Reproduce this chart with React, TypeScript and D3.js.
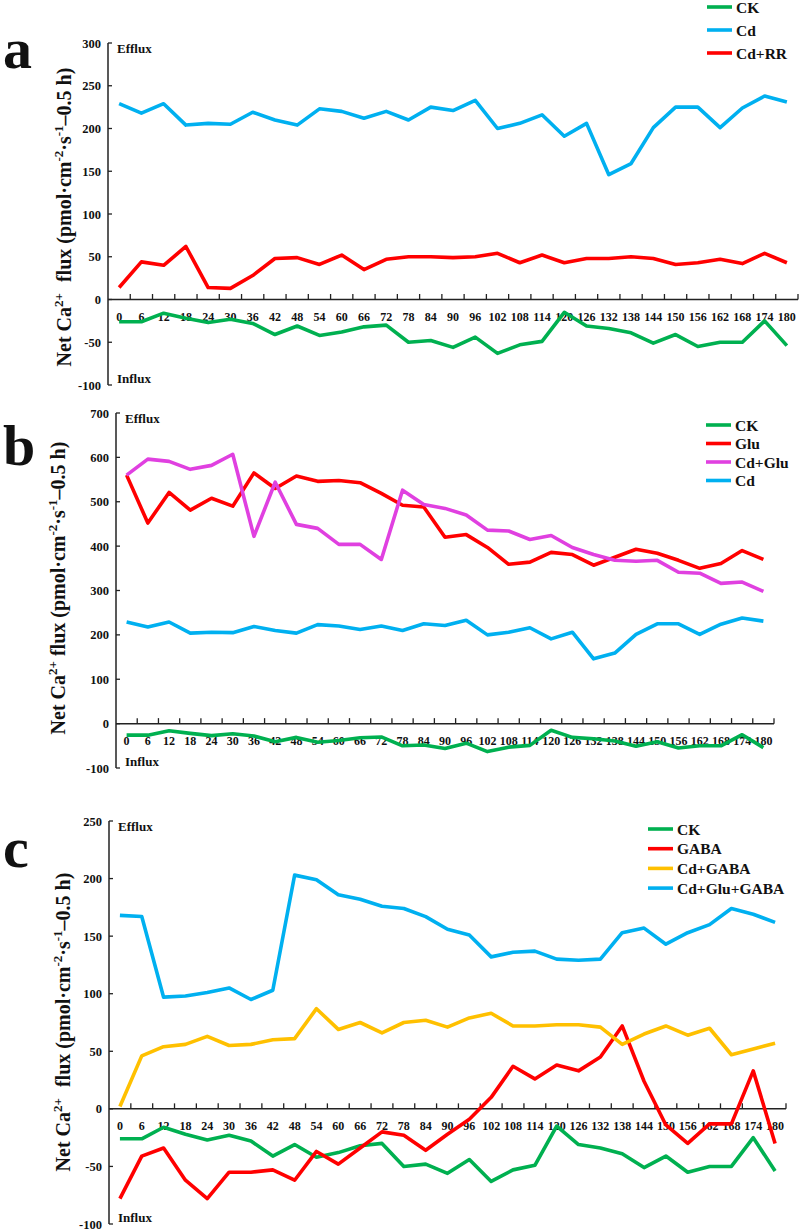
import * as d3 from "d3";

// sampling times (min) shared by all three panels
const TIMES = [0, 6, 12, 18, 24, 30, 36, 42, 48, 54, 60, 66, 72, 78, 84, 90, 96, 102, 108, 114, 120, 126, 132, 138, 144, 150, 156, 162, 168, 174, 180];

// net Ca2+ flux, pmol·cm-2·s-1
const CK = [-26, -26, -16, -22, -27, -23, -28, -41, -31, -42, -38, -32, -30, -50, -48, -56, -44, -63, -53, -49, -15, -31, -34, -39, -51, -41, -55, -50, -50, -25, -54];
const CD = [229, 218, 229, 204, 206, 205, 219, 210, 204, 223, 220, 212, 220, 210, 225, 221, 233, 200, 206, 216, 191, 206, 146, 159, 201, 225, 225, 201, 224, 238, 231];
const CD_RR = [14, 44, 40, 62, 14, 13, 28, 48, 49, 41, 52, 35, 47, 50, 50, 49, 50, 54, 43, 52, 43, 48, 48, 50, 48, 41, 43, 47, 42, 54, 43];
const GLU = [560, 452, 521, 481, 508, 490, 565, 530, 558, 546, 548, 543, 519, 492, 488, 420, 426, 397, 359, 364, 386, 381, 357, 375, 393, 384, 368, 350, 361, 390, 370];
const CD_GLU = [560, 596, 591, 573, 582, 607, 422, 544, 449, 440, 404, 404, 370, 526, 494, 485, 470, 436, 434, 415, 424, 397, 381, 368, 366, 368, 341, 339, 316, 319, 298];
const GABA = [-78, -41, -34, -62, -78, -55, -55, -53, -62, -37, -48, -34, -20, -23, -36, -22, -9, 10, 37, 26, 38, 33, 45, 72, 24, -14, -30, -13, -13, 33, -30];
const CD_GABA = [2, 46, 54, 56, 63, 55, 56, 60, 61, 87, 69, 75, 66, 75, 77, 71, 79, 83, 72, 72, 73, 73, 71, 56, 65, 72, 64, 70, 47, 52, 57];
const CD_GLU_GABA = [168, 167, 97, 98, 101, 105, 95, 103, 203, 199, 186, 182, 176, 174, 167, 156, 151, 132, 136, 137, 130, 129, 130, 153, 157, 143, 153, 160, 174, 169, 162];

const TICKS_A = [-100, -50, 0, 50, 100, 150, 200, 250, 300];
const TICKS_B = [-100, 0, 100, 200, 300, 400, 500, 600, 700];
const TICKS_C = [-100, -50, 0, 50, 100, 150, 200, 250];

const GREEN = "#00B050";
const BLUE = "#00B0F0";
const RED = "#FF0000";
const MAGENTA = "#E040E0";
const ORANGE = "#FFC000";

const FONT = "'Liberation Serif', 'Times New Roman', serif";

const PANELS = [
  {
    letter: "a", letterY: 68, x0: 108, x1: 798, top: 43, bottom: 385, ticks: TICKS_A,
    labelX: 71, labelY: 217, wide: true,
    legend: { x: 707, y: 7, gap: 23 },
    series: [
      { name: "CK", values: CK, color: GREEN },
      { name: "Cd", values: CD, color: BLUE },
      { name: "Cd+RR", values: CD_RR, color: RED },
    ],
  },
  {
    letter: "b", letterY: 465, x0: 116, x1: 774, top: 413, bottom: 768, ticks: TICKS_B,
    labelX: 65, labelY: 588, wide: false,
    legend: { x: 706, y: 425, gap: 18.5 },
    series: [
      { name: "CK", values: CK, color: GREEN },
      { name: "Glu", values: GLU, color: RED },
      { name: "Cd+Glu", values: CD_GLU, color: MAGENTA },
      { name: "Cd", values: CD, color: BLUE },
    ],
    drawOrder: [0, 3, 1, 2],
  },
  {
    letter: "c", letterY: 867, x0: 109, x1: 786, top: 821, bottom: 1224, ticks: TICKS_C,
    labelX: 70, labelY: 1022, wide: true,
    legend: { x: 648, y: 829, gap: 19.7 },
    series: [
      { name: "CK", values: CK, color: GREEN },
      { name: "GABA", values: GABA, color: RED },
      { name: "Cd+GABA", values: CD_GABA, color: ORANGE },
      { name: "Cd+Glu+GABA", values: CD_GLU_GABA, color: BLUE },
    ],
  },
];

type PanelDef = (typeof PANELS)[number] & { drawOrder?: number[] };

function Panel({ p }: { p: PanelDef }) {
  const x = d3.scaleBand<number>().domain(TIMES).range([p.x0, p.x1]);
  const y = d3
    .scaleLinear()
    .domain([p.ticks[0], p.ticks[p.ticks.length - 1]])
    .range([p.bottom, p.top]);
  const bw = x.bandwidth();
  const zero = y(0);
  const line = d3
    .line<number>()
    .x((_, i) => (x(TIMES[i]) as number) + bw / 2)
    .y((d) => y(d));
  const order = p.drawOrder ?? p.series.map((_, i) => i);

  return (
    <g fontFamily={FONT} fontWeight="bold" fill="#111">
      {/* panel letter */}
      <text x={3} y={p.letterY} fontSize={58}>{p.letter}</text>

      {/* y axis */}
      <line x1={p.x0} x2={p.x0} y1={p.top} y2={p.bottom} stroke="#222" strokeWidth={1.5} />
      {p.ticks.map((t) => (
        <g key={t}>
          <line x1={p.x0} x2={p.x0 + 4} y1={y(t)} y2={y(t)} stroke="#222" strokeWidth={1.3} />
          <text x={p.x0 - 7} y={y(t) + 4.5} fontSize={12.5} textAnchor="end">{t}</text>
        </g>
      ))}
      <text x={p.x0 + 9} y={p.top + 10} fontSize={13}>Efflux</text>
      <text x={p.x0 + 9} y={p.bottom - 2} fontSize={13}>Influx</text>

      {/* zero axis with category ticks between points */}
      <line x1={p.x0} x2={p.x1} y1={zero} y2={zero} stroke="#222" strokeWidth={1.5} />
      {TIMES.map((t) => (
        <line key={"tk" + t} x1={(x(t) as number) + bw} x2={(x(t) as number) + bw}
          y1={zero} y2={zero - 5.5} stroke="#222" strokeWidth={1.3} />
      ))}
      {TIMES.map((t) => (
        <text key={"lb" + t} x={(x(t) as number) + bw / 2} y={zero + 21} fontSize={12}
          textAnchor="middle">{t}</text>
      ))}

      {/* y axis title */}
      <text transform={`translate(${p.labelX},${p.labelY}) rotate(-90)`} fontSize={20}
        textAnchor="middle">
        Net Ca<tspan fontSize={13} dy={-8}>2+</tspan>
        <tspan dy={8} dx={p.wide ? 6 : 0}> flux (pmol·cm</tspan>
        <tspan fontSize={13} dy={-8}>-2</tspan>
        <tspan dy={8}>·s</tspan>
        <tspan fontSize={13} dy={-8}>-1</tspan>
        <tspan dy={8}>–0.5 h)</tspan>
      </text>

      {/* series */}
      {order.map((i) => {
        const s = p.series[i];
        return (
          <path key={s.name} d={line(s.values) ?? ""} fill="none" stroke={s.color}
            strokeWidth={3.6} strokeLinejoin="round" />
        );
      })}

      {/* legend */}
      {p.series.map((s, i) => {
        const ly = p.legend.y + i * p.legend.gap;
        return (
          <g key={"lg" + s.name}>
            <line x1={p.legend.x} x2={p.legend.x + 25} y1={ly} y2={ly} stroke={s.color} strokeWidth={3.6} />
            <text x={p.legend.x + 29} y={ly + 5.5} fontSize={15.5}>{s.name}</text>
          </g>
        );
      })}
    </g>
  );
}

export default function App() {
  return (
    <svg width={800} height={1232} viewBox="0 0 800 1232"
      style={{ position: "absolute", left: 0, top: 0, background: "#fff" }}>
      <rect width={800} height={1232} fill="#fff" />
      {PANELS.map((p) => (
        <Panel key={p.letter} p={p as PanelDef} />
      ))}
    </svg>
  );
}
